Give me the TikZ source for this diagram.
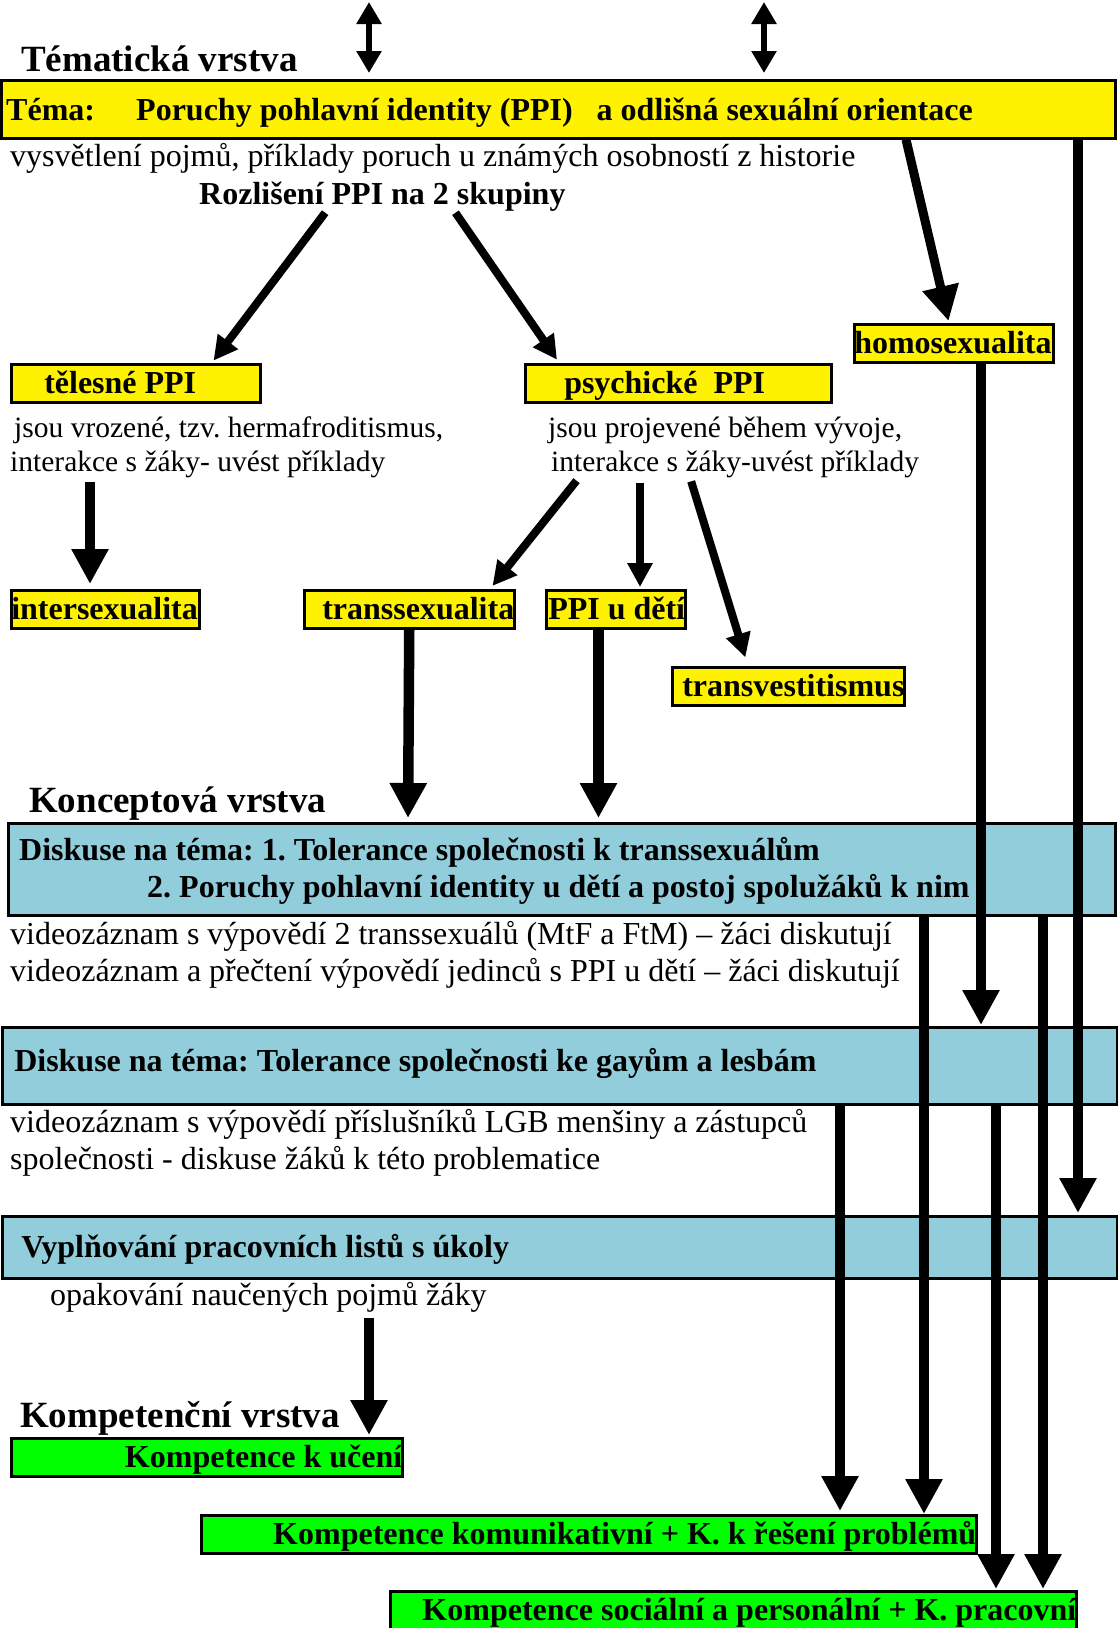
\documentclass[tikz,border=0pt]{standalone}
\usepackage{fontspec}
\setmainfont{Liberation Serif}
\usetikzlibrary{arrows.meta}
\definecolor{aqua}{HTML}{92CDDC}
\setlength{\parindent}{0pt}
\frenchspacing

\begin{document}
\begin{tikzpicture}[x=1pt, y=-1pt]
	\tikzstyle{layer}=[anchor=base west, inner sep=0pt, font=\fontsize{37}{44}\selectfont\bfseries]
	\tikzstyle{txt}=[anchor=base west, inner sep=0pt, align=flush left, font=\fontsize{32}{37}\selectfont]
	\tikzstyle{btxt}=[txt, font=\fontsize{32}{37}\selectfont\bfseries]
	\tikzstyle{box}=[rectangle, draw=black, line width=2.5pt, anchor=north west, inner sep=0pt, align=flush left, text height=25pt, text depth=5pt, font=\fontsize{32}{37}\selectfont\bfseries]
	\tikzstyle{ybox}=[box, fill=yellow, minimum height=38pt]
	\tikzstyle{gbox}=[box, fill=green, minimum height=38pt, align=flush right]
	\tikzstyle{bbox}=[box, fill=aqua]
	\tikzstyle{connect}=[line width=10.5pt, -{Triangle[length=35pt,width=35pt]}, shorten >=2pt]
	\tikzstyle{slim}=[line width=8pt, -{Triangle[length=24pt,width=24pt]}]
	\tikzstyle{dblarrow}=[line width=6pt, {Triangle[length=22pt,width=24pt]}-{Triangle[length=22pt,width=24pt]}]
	\useasboundingbox (0,0) rectangle (1118,1628);

	% tematicka vrstva
	\node[layer] (tlay) at (21,71) {Tématická vrstva};
	\node[ybox, text width=1114pt, minimum height=58pt, text height=27pt] (topic) at (0,79) {\hspace*{5pt}\makebox[130pt][l]{Téma:}Poruchy pohlavní identity (PPI)\hspace{16pt} a odlišná sexuální orientace};
	\node[txt, text width=900pt] (expl) at (10,166) {vysvětlení pojmů, příklady poruch u známých osobností z historie};
	\node[btxt] (rozl) at (199,204) {Rozlišení PPI na 2 skupiny};
	\node[ybox, text width=199pt] (homo)  at (853,323) {\mbox{homosexualita}};
	\node[ybox, text width=249pt] (teles) at (10,363)  {\hspace*{33pt}tělesné PPI};
	\node[ybox, text width=306pt] (psych) at (524,363) {\hspace*{39pt}psychické\ \ PPI};
	\node[txt, text width=480pt, font=\fontsize{29.5}{34}\selectfont] (telt) at (10,437) {\hspace*{4pt}jsou vrozené, tzv. hermafroditismus,\\interakce s žáky- uvést příklady};
	\node[txt, text width=420pt, font=\fontsize{29.5}{34}\selectfont] (psyt) at (548,437) {jsou projevené během vývoje,\\\hspace*{3pt}interakce s žáky-uvést příklady};
	\node[ybox, text width=188pt] (inter) at (10,589)  {\mbox{intersexualita}};
	\node[ybox, text width=210pt] (trans) at (303,589) {\hspace*{18pt}transsexualita};
	\node[ybox, text width=139pt] (deti)  at (545,589) {\mbox{\hspace*{2pt}PPI u dětí}};
	\node[ybox, text width=232pt] (tvest) at (671,666) {\mbox{\hspace*{10pt}transvestitismus}};

	% konceptova vrstva
	\node[layer] (klay) at (29,812) {Konceptová vrstva};
	\node[bbox, text width=1107pt, minimum height=92pt, text depth=42pt] (disk1) at (7,822) {\hspace*{11pt}Diskuse na téma: 1. Tolerance společnosti k transsexuálům\\\hspace*{139pt}2. Poruchy pohlavní identity u dětí a postoj spolužáků k nim};
	\node[txt, text width=1000pt] (disk1t) at (10,944) {videozáznam s výpovědí 2 transsexuálů (MtF a FtM) – žáci diskutují\\videozáznam a přečtení výpovědí jedinců s PPI u dětí – žáci diskutují};
	\node[bbox, text width=1115pt, minimum height=77pt, text depth=14pt] (disk2) at (1,1026) {\hspace*{12pt}Diskuse na téma: Tolerance společnosti ke gayům a lesbám};
	\node[txt, text width=1000pt] (disk2t) at (10,1132) {videozáznam s výpovědí příslušníků LGB menšiny a zástupců\\společnosti - diskuse žáků k této problematice};
	\node[bbox, text width=1115pt, minimum height=62pt] (disk3) at (1,1215) {\hspace*{19pt}Vyplňování pracovních listů s úkoly};
	\node[txt] (opak) at (50,1305) {opakování naučených pojmů žáky};

	% kompetencni vrstva
	\node[layer] (kklay) at (20,1427) {Kompetenční vrstva};
	\node[gbox, text width=391pt] (kuc)  at (10,1437)  {\mbox{Kompetence k učení}};
	\node[gbox, text width=775pt] (kkom) at (200,1514) {\mbox{Kompetence komunikativní + K. k řešení problémů}};
	\node[gbox, text width=686pt] (ksoc) at (389,1590) {\mbox{Kompetence sociální a personální + K. pracovní}};

	\coordinate (up1) at (369,2);
	\coordinate (up2) at (764,2);

	\path
	(up1) edge [dblarrow, shorten >=6pt] ([xshift=369pt]topic.north west)
	(up2) edge [dblarrow, shorten >=6pt] ([xshift=764pt]topic.north west)

	([xshift=-56pt]rozl.south) edge [slim, shorten <=2pt, shorten >=3pt] ([xshift=76pt]teles.north)
	([xshift=72pt]rozl.south)  edge [slim, shorten <=2pt, shorten >=4pt] ([xshift=-119pt]psych.north)
	([xshift=906pt]topic.south west) edge [connect, line width=9pt] ([xshift=96pt]homo.north west)

	([xshift=80pt]telt.south west)  edge [connect, shorten <=4pt, shorten >=5pt] ([xshift=80pt]inter.north west)
	([xshift=31pt]psyt.south west)  edge [slim, shorten <=4pt, shorten >=4pt] ([xshift=187pt]trans.north west)
	([xshift=92pt]psyt.south west)  edge [slim, shorten <=5pt, shorten >=2pt] ([xshift=95pt]deti.north west)
	([xshift=142pt]psyt.south west) edge [slim, shorten <=4pt, shorten >=9pt] ([xshift=77pt]tvest.north west)

	(trans.south) edge [connect, shorten >=4pt] ([xshift=401pt]disk1.north west)
	([xshift=53.5pt]deti.south west) edge [connect, shorten >=4pt] ([xshift=591.5pt]disk1.north west)
	([xshift=128pt]homo.south west)  edge [connect, shorten >=1pt] ([xshift=980pt]disk2.north west)
	([xshift=1078pt]topic.south west) edge [connect] ([xshift=1077pt]disk3.north west)

	([xshift=917pt]disk1.south west)  edge [connect, shorten >=0pt] ([xshift=724pt]kkom.north west)
	([xshift=1036pt]disk1.south west) edge [connect, shorten >=1pt] ([xshift=654pt]ksoc.north west)
	([xshift=839pt]disk2.south west)  edge [connect, shorten >=3pt] ([xshift=640pt]kkom.north west)
	([xshift=995pt]disk2.south west)  edge [connect, shorten >=1pt] ([xshift=607pt]ksoc.north west)
	([xshift=319pt]opak.south west)   edge [connect, shorten <=6pt] ([xshift=359pt]kuc.north west)
	;
\end{tikzpicture}
\end{document}
